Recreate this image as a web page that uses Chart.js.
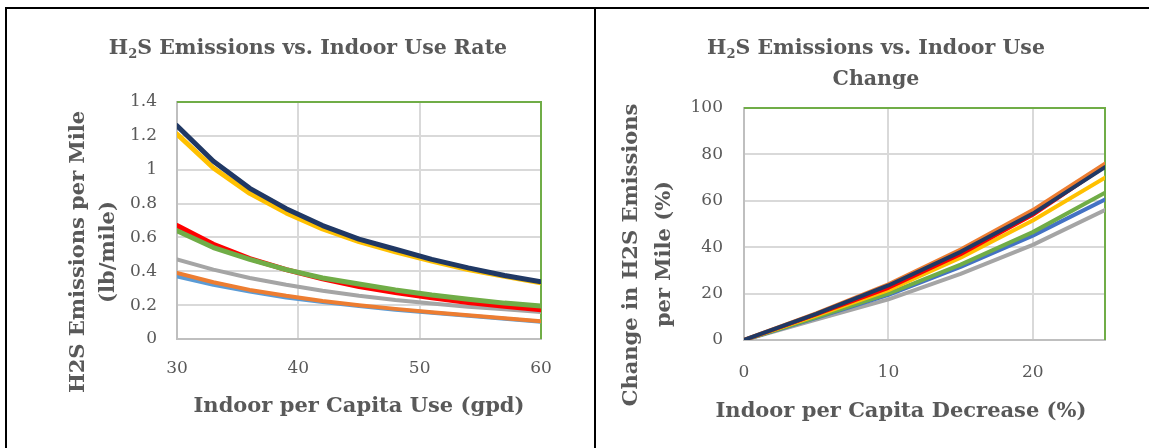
<!DOCTYPE html>
<html>
<head>
<meta charset="utf-8">
<script src="https://cdn.jsdelivr.net/npm/chart.js@4.4.1/dist/chart.umd.min.js"></script>
<style>
    body { margin: 0; width: 1149px; height: 448px; background: #fff; position: relative; overflow: hidden;
           font-family: "DejaVu Serif", serif; color: #595959; }
    .frame { position: absolute; left: 5px; top: 7px; width: 1160px; height: 460px;
             border-top: 2px solid #000; border-left: 2px solid #000; }
    .divider { position: absolute; left: 594px; top: 7px; width: 2px; height: 441px; background: #000; }
    .wrap { position: absolute; top: 9px; height: 439px; }
    .title { position: absolute; font-weight: bold; font-size: 20.5px; text-align: center; white-space: nowrap;
             transform: translate(-50%, -50%); line-height: 31px; }
    .title sub { font-size: 13px; vertical-align: -4px; line-height: 0; }
    .axtitle { position: absolute; font-weight: bold; font-size: 21px; white-space: nowrap;
               transform: translate(-50%, -50%); }
    .ytitle { position: absolute; font-weight: bold; font-size: 21px; white-space: nowrap;
              transform: translate(-50%, -50%) rotate(-90deg); }
</style>
</head>
<body>
<div class="frame"></div>
<div class="divider"></div>

<div class="wrap" style="left:7px; width:587px;"><canvas id="rateChart"></canvas></div>
<div class="wrap" style="left:597px; width:552px;"><canvas id="changeChart"></canvas></div>

<div class="title" style="left:308px; top:47px;">H<sub>2</sub>S Emissions vs. Indoor Use Rate</div>
<div class="axtitle" style="left:359px; top:404px;">Indoor per Capita Use (gpd)</div>
<div class="ytitle" style="left:76px; top:252px;">H2S Emissions per Mile</div>
<div class="ytitle" style="left:106px; top:252px;">(lb/mile)</div>

<div class="title" style="left:876px; top:63px;">H<sub>2</sub>S Emissions vs. Indoor Use<br>Change</div>
<div class="axtitle" style="left:901px; top:409px;">Indoor per Capita Decrease (%)</div>
<div class="ytitle" style="left:629px; top:255px;">Change in H2S Emissions</div>
<div class="ytitle" style="left:662px; top:254px;">per Mile (%)</div>

<script>
// --- left chart: emissions vs indoor use rate ---
const gpdValues = [30, 33, 36, 39, 42, 45, 48, 51, 54, 57, 60];
const rateNavy   = [1.26, 1.05, 0.89, 0.77, 0.67, 0.59, 0.53, 0.47, 0.42, 0.375, 0.338];
const rateYellow = [1.21, 1.01, 0.86, 0.745, 0.65, 0.575, 0.515, 0.46, 0.41, 0.37, 0.332];
const rateRed    = [0.67, 0.56, 0.475, 0.41, 0.355, 0.31, 0.275, 0.243, 0.216, 0.193, 0.172];
const rateGreen  = [0.64, 0.54, 0.47, 0.41, 0.36, 0.325, 0.29, 0.26, 0.235, 0.212, 0.195];
const rateGray   = [0.47, 0.41, 0.36, 0.32, 0.285, 0.255, 0.23, 0.21, 0.19, 0.175, 0.16];
const rateOrange = [0.39, 0.335, 0.29, 0.255, 0.225, 0.2, 0.178, 0.158, 0.14, 0.122, 0.105];
const rateBlue   = [0.37, 0.32, 0.28, 0.245, 0.218, 0.195, 0.173, 0.155, 0.138, 0.12, 0.102];
const rateYTicks = ['0', '0.2', '0.4', '0.6', '0.8', '1', '1.2', '1.4'];
const rateXTicks = ['30', '40', '50', '60'];

// --- right chart: change in emissions vs indoor use decrease ---
const decreasePct  = [0, 5, 10, 15, 20, 25];
const changeOrange = [0, 11.5, 24, 39, 56, 76];
const changeNavy   = [0, 11.3, 23.5, 38, 54.5, 74.5];
const changeRed    = [0, 11, 22.5, 37, 54, 75];
const changeYellow = [0, 10.5, 21.5, 35.5, 51.5, 70];
const changeGreen  = [0, 9.8, 20, 32.5, 46.5, 63.5];
const changeBlue   = [0, 9.5, 19.5, 31.5, 45, 60.5];
const changeGray   = [0, 8.8, 17.5, 28.5, 41, 56];
const changeYTicks = ['0', '20', '40', '60', '80', '100'];
const changeXTicks = ['0', '10', '20'];

const tickFont = { family: 'DejaVu Serif', size: 17 };
const tickColor = '#595959';

function pts(xs, ys) {
    return xs.map((x, i) => ({ x: x, y: ys[i] }));
}

function line(xs, ys, color, width) {
    return {
        data: pts(xs, ys),
        borderColor: color,
        backgroundColor: color,
        borderWidth: width,
        pointRadius: 0,
        tension: 0,
        borderCapStyle: 'round',
        borderJoinStyle: 'round'
    };
}

// green top/right edges of the plot area, like the excel chart
const plotFrame = {
    id: 'plotFrame',
    beforeDatasetsDraw(chart) {
        const { ctx, chartArea: a } = chart;
        ctx.save();
        ctx.strokeStyle = '#70AD47';
        ctx.lineWidth = 2;
        ctx.beginPath();
        ctx.moveTo(a.left, a.top);
        ctx.lineTo(a.right, a.top);
        ctx.lineTo(a.right, a.bottom);
        ctx.stroke();
        ctx.restore();
    }
};

function makeChart(id, datasets, cfg) {
    return new Chart(document.getElementById(id), {
        type: 'line',
        data: { datasets: datasets },
        plugins: [plotFrame],
        options: {
            responsive: true,
            maintainAspectRatio: false,
            animation: false,
            layout: { padding: { top: cfg.top, right: cfg.right, left: 0, bottom: 0 } },
            plugins: { legend: { display: false }, tooltip: { enabled: false } },
            scales: {
                x: {
                    type: 'linear',
                    min: cfg.xMin, max: cfg.xMax,
                    afterFit: s => { s.height = cfg.xHeight; },
                    grid: { color: '#D9D9D9', lineWidth: 2, drawTicks: false },
                    border: { color: '#BFBFBF', width: 2 },
                    ticks: {
                        stepSize: 10, includeBounds: false, autoSkip: false, maxRotation: 0,
                        padding: cfg.xPad, font: tickFont, color: tickColor,
                        callback: (v, i) => cfg.xLabels[i]
                    }
                },
                y: {
                    min: cfg.yMin, max: cfg.yMax,
                    afterFit: s => { s.width = cfg.yWidth; },
                    grid: { color: '#D9D9D9', lineWidth: 2, drawTicks: false },
                    border: { color: '#BFBFBF', width: 2 },
                    ticks: {
                        stepSize: cfg.yStep, autoSkip: false,
                        padding: cfg.yPad, font: tickFont, color: tickColor,
                        callback: (v, i) => cfg.yLabels[i]
                    }
                }
            }
        }
    });
}

makeChart('rateChart', [
    line(gpdValues, rateNavy, '#203864', 5),
    line(gpdValues, rateYellow, '#FFC000', 5),
    line(gpdValues, rateGreen, '#70AD47', 5),
    line(gpdValues, rateRed, '#FF0000', 5),
    line(gpdValues, rateGray, '#A5A5A5', 4),
    line(gpdValues, rateOrange, '#ED7D31', 4),
    line(gpdValues, rateBlue, '#5B9BD5', 4)
], {
    top: 93, right: 53, xHeight: 109, yWidth: 170, yPad: 20, xPad: 19,
    xMin: 30, xMax: 60, yMin: 0, yMax: 1.4, yStep: 0.2,
    xLabels: rateXTicks, yLabels: rateYTicks
});

makeChart('changeChart', [
    line(decreasePct, changeNavy, '#203864', 4),
    line(decreasePct, changeOrange, '#ED7D31', 4),
    line(decreasePct, changeRed, '#FF0000', 4),
    line(decreasePct, changeYellow, '#FFC000', 4),
    line(decreasePct, changeGreen, '#70AD47', 4),
    line(decreasePct, changeBlue, '#4472C4', 4),
    line(decreasePct, changeGray, '#A5A5A5', 4)
], {
    top: 99, right: 44, xHeight: 108, yWidth: 147, yPad: 21, xPad: 22,
    xMin: 0, xMax: 25, yMin: 0, yMax: 100, yStep: 20,
    xLabels: changeXTicks, yLabels: changeYTicks
});
</script>
</body>
</html>
